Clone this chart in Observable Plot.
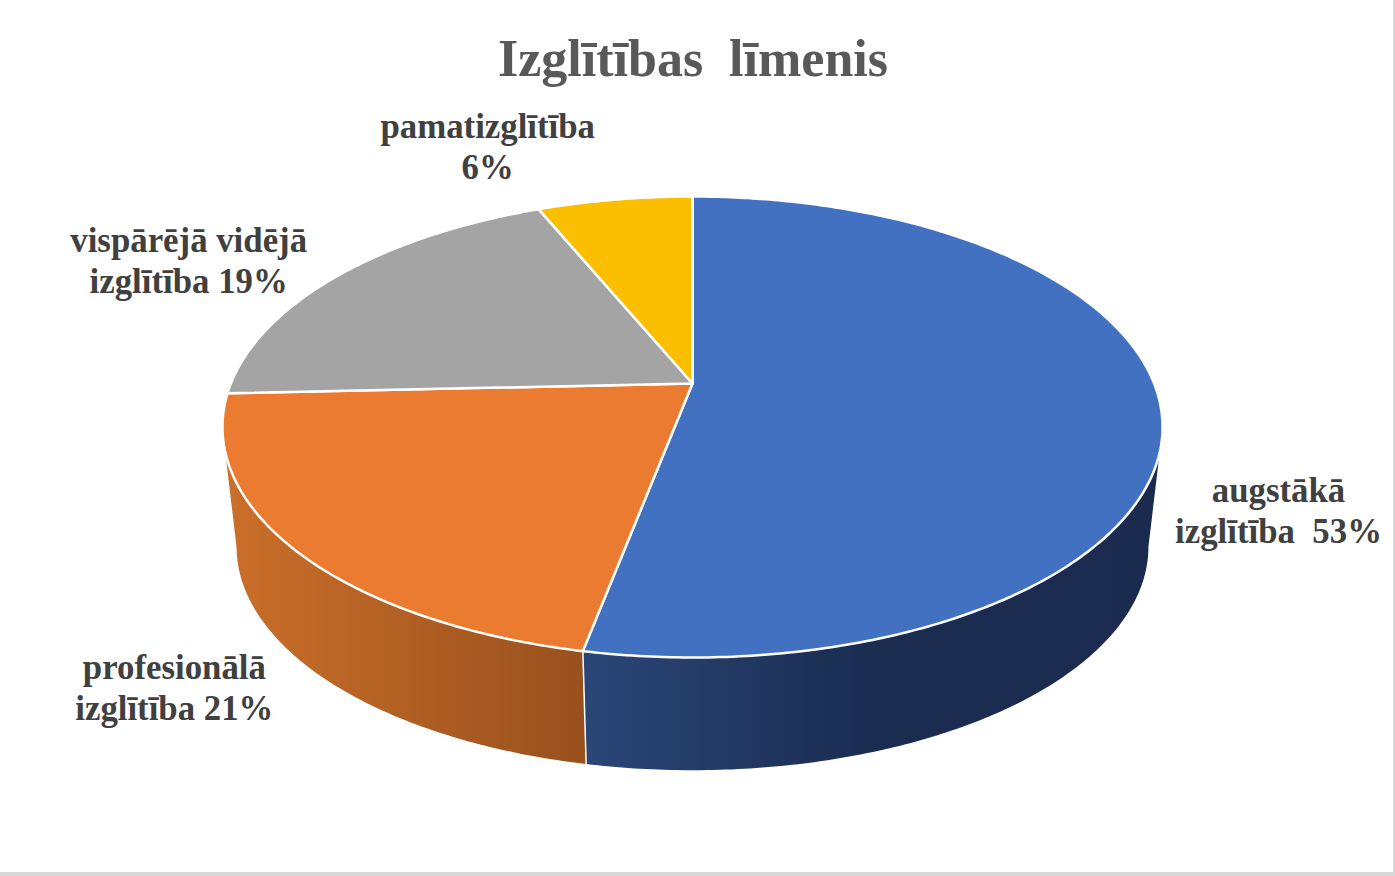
<!DOCTYPE html>
<html lang="lv">
<head>
<meta charset="utf-8">
<script src="https://cdn.jsdelivr.net/npm/d3@7"></script>
<script src="https://cdn.jsdelivr.net/npm/@observablehq/plot@0.6"></script>
<style>
html,body{margin:0;padding:0;background:#fff;overflow:hidden}
#frame{position:absolute;left:0;top:0;width:1393px;height:872px;border-right:2px solid #d9d9d9;border-bottom:4px solid #d9d9d9;pointer-events:none}
svg text{white-space:pre}
</style>
</head>
<body>
<div id="chart"></div>
<div id="frame"></div>
<script>
const chartTitle = "Izglītības  līmenis";
const categories = ["augstākā izglītība", "profesionālā izglītība", "vispārējā vidējā izglītība", "pamatizglītība"];
const shares = [53.1, 21.2, 19.3, 6.4];
const labels = ["augstākā\nizglītība  53%", "profesionālā\nizglītība 21%", "vispārējā vidējā\nizglītība 19%", "pamatizglītība\n6%"];
const colors = ["#4371c1", "#ea7b30", "#a4a4a4", "#fbbf00"];

const W = 1395, H = 876;
const cx = 692, cy = 383;          // pie apex on the page
const a = 222.3, b = 461.6;        // pixels per pie unit
const k = 0.1887;                  // perspective strength
const discScale = 0.97, drop = 0.544; // lower disc of the extruded pie

const total = d3.sum(shares);
const cumulative = d3.cumsum(shares);
const angleAt = p => (p / total) * 2 * Math.PI;
const rim = t => ({x: Math.sin(t) / (1 + k * Math.cos(t)), y: -Math.cos(t) / (1 + k * Math.cos(t))});
const low = t => { const p = rim(t); return {x: p.x * discScale, y: p.y * discScale + drop}; };
const arc = (f, t0, t1) => { const n = Math.max(2, Math.ceil(Math.abs(t1 - t0) * 90)); return d3.range(n + 1).map(i => f(t0 + (t1 - t0) * i / n)); };

const slices = shares.map((s, i) => ({t0: angleAt(i ? cumulative[i - 1] : 0), t1: angleAt(cumulative[i])}));
const apex = {x: 0, y: 0};
const topFace = slices.map(({t0, t1}) => [apex, ...arc(rim, t0, t1), apex]);

const rad = d => d * Math.PI / 180;
const blueWall = [...arc(rim, rad(107), slices[0].t1), ...arc(low, slices[0].t1, rad(100.9))];
const orangeWall = [...arc(rim, slices[1].t0, rad(253)), ...arc(low, rad(259), slices[1].t0)];
blueWall.push(blueWall[0]); orangeWall.push(orangeWall[0]);
const seam = [rim(slices[0].t1), low(slices[0].t1)];

const labelShift = [[118, 103.5], [-119, 138], [-149, -16], [-127, -54]];
const labelFont = {fontFamily: "Liberation Serif", fontWeight: "bold", fontSize: 34.8, fill: "#404040", lineHeight: 1.18, textAnchor: "middle", lineAnchor: "middle"};

const gradient = (id, stops) => {
  const g = d3.create("svg:linearGradient").attr("id", id).attr("x1", 0).attr("x2", 1).attr("y1", 0).attr("y2", 0);
  stops.forEach(([o, c]) => g.append("stop").attr("offset", o).attr("stop-color", c));
  return g.node();
};
const defs = () => {
  const d = d3.create("svg:defs");
  d.append(() => gradient("wallBlue", [[0, "#2a4778"], [0.5, "#1a2c50"], [1, "#1a2b4f"]]));
  d.append(() => gradient("wallOrange", [[0, "#cb6f2a"], [1, "#98501d"]]));
  return d.node();
};

const chart = Plot.plot({
  width: W, height: H, margin: 0,
  x: {domain: [-cx / b, (W - cx) / b], range: [0, W], axis: null},
  y: {domain: [-cy / a, (H - cy) / a], range: [0, H], axis: null},
  marks: [
    defs,
    Plot.line(orangeWall, {x: "x", y: "y", fill: "url(#wallOrange)", stroke: "none"}),
    Plot.line(blueWall, {x: "x", y: "y", fill: "url(#wallBlue)", stroke: "none"}),
    Plot.line(seam, {x: "x", y: "y", stroke: "#fff", strokeWidth: 1.5}),
    ...topFace.map((pts, i) => Plot.line(pts, {x: "x", y: "y", fill: colors[i], stroke: "#fff", strokeWidth: 2.5, strokeLinejoin: "round", title: () => categories[i]})),
    ...slices.map(({t0, t1}, i) => {
      const m = rim((t0 + t1) / 2);
      return Plot.text([labels[i]], {...labelFont, x: [m.x], y: [m.y], text: d => d, dx: labelShift[i][0], dy: labelShift[i][1]});
    }),
    Plot.text([chartTitle], {frameAnchor: "top", text: d => d, dx: -5, dy: 39, fontFamily: "Liberation Serif", fontWeight: "bold", fontSize: 52, fill: "#595959"})
  ]
});
document.getElementById("chart").append(chart);
</script>
</body>
</html>
